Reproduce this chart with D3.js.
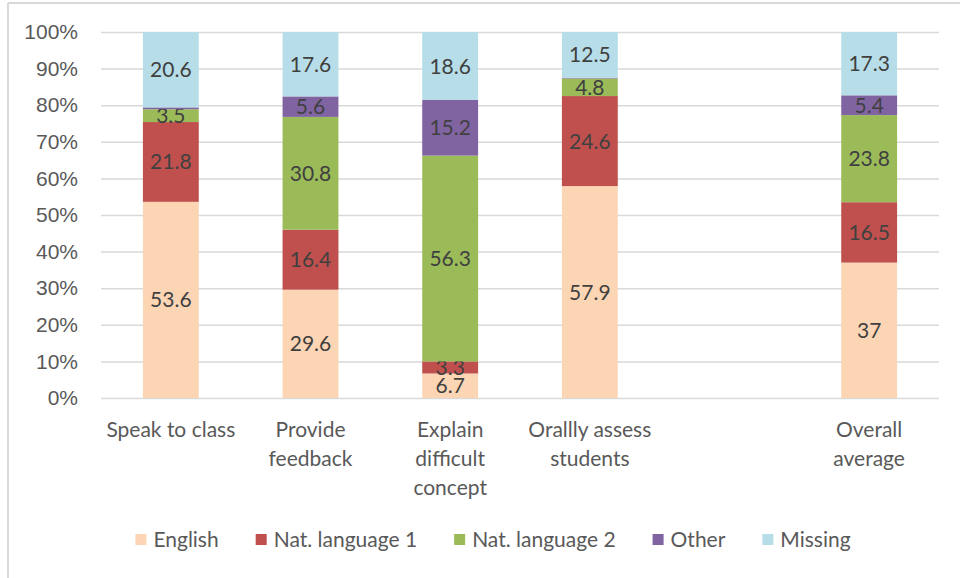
<!DOCTYPE html>
<html>
<head>
<meta charset="utf-8">
<script src="https://cdn.jsdelivr.net/npm/d3@7"></script>
<style>
  body { margin: 0; background: #fff; }
  svg { display: block; font-family: Lato, "Open Sans", sans-serif; }
</style>
</head>
<body>
<svg id="chart" width="960" height="578"></svg>
<script>
// chart data (empty slot between 4th and 5th bar)
const categories = ["Speak to class", "Provide feedback", "Explain difficult concept", "Orallly assess students", "", "Overall average"];
const catLines = [["Speak to class"], ["Provide", "feedback"], ["Explain", "difficult", "concept"], ["Orallly assess", "students"], [], ["Overall", "average"]];
const seriesNames = ["English", "Nat. language 1", "Nat. language 2", "Other", "Missing"];
const english  = [53.6, 29.6, 6.7, 57.9, null, 37];
const natLang1 = [21.8, 16.4, 3.3, 24.6, null, 16.5];
const natLang2 = [3.5, 30.8, 56.3, 4.8, null, 23.8];
const other    = [0.5, 5.6, 15.2, 0.2, null, 5.4];
const missing  = [20.6, 17.6, 18.6, 12.5, null, 17.3];
const yTicks = [0, 0.1, 0.2, 0.3, 0.4, 0.5, 0.6, 0.7, 0.8, 0.9, 1];

const colors = ["#FCD5B5", "#C0504D", "#9BBB59", "#8064A2", "#B7DEE8"];
const margin = {top: 32, left: 101, right: 21, bottom: 180};
const W = 960, H = 578;
const width = W - margin.left - margin.right, height = H - margin.top - margin.bottom;
const fs = "21px";

let svg = d3.select("#chart");

// frame (only left and top edges are visible in the picture)
svg.append("line").attr("x1", 8).attr("x2", 8).attr("y1", 3).attr("y2", H)
  .attr("stroke", "#d9d9d9").attr("stroke-width", 2);
svg.append("line").attr("x1", 8).attr("x2", W).attr("y1", 3).attr("y2", 3)
  .attr("stroke", "#d9d9d9").attr("stroke-width", 2);

let rows = categories.map((c, i) => ({
  cat: c,
  "English": english[i], "Nat. language 1": natLang1[i], "Nat. language 2": natLang2[i],
  "Other": other[i], "Missing": missing[i]
}));
let dataRows = rows.filter(d => d.English != null);

let x = d3.scaleBand().domain(categories.map((c, i) => i)).range([0, width]).paddingInner(0.6).paddingOuter(0.3);
let y = d3.scaleLinear().domain([0, 1]).range([height, 0]);

let g = svg.append("g").attr("transform", "translate(" + margin.left + "," + margin.top + ")");

// gridlines + y labels
let yAxis = d3.axisLeft(y).tickValues(yTicks).tickFormat(d3.format(".0%")).tickSize(-width).tickPadding(23);
let ya = g.append("g").call(yAxis);
ya.select(".domain").remove();
ya.selectAll(".tick line").attr("stroke", "#d9d9d9").attr("stroke-width", 1.5);
ya.selectAll(".tick text").attr("fill", "#595959").style("font-size", fs);

// stacked bars, normalised to 100%
let stack = d3.stack().keys(seriesNames).offset(d3.stackOffsetExpand);
let stacked = stack(dataRows);

let layers = g.selectAll(".layer").data(stacked).enter().append("g")
  .attr("class", "layer").attr("fill", (d, i) => colors[i]);

layers.selectAll("rect").data(d => d).enter().append("rect")
  .attr("x", d => x(categories.indexOf(d.data.cat)))
  .attr("width", x.bandwidth())
  .attr("y", d => y(d[1]))
  .attr("height", d => y(d[0]) - y(d[1]));

// data labels
layers.each(function(layer) {
  d3.select(this).selectAll("text").data(layer.filter(d => d.data[layer.key] >= 1)).enter().append("text")
    .attr("x", d => x(categories.indexOf(d.data.cat)) + x.bandwidth() / 2)
    .attr("y", d => (y(d[0]) + y(d[1])) / 2)
    .attr("dy", "0.36em")
    .attr("text-anchor", "middle")
    .attr("fill", "#404040")
    .style("font-size", fs)
    .text(d => d.data[layer.key]);
});

// category labels
categories.forEach((c, i) => {
  let t = g.append("text")
    .attr("x", x(i) + x.bandwidth() / 2)
    .attr("y", height + 39)
    .attr("text-anchor", "middle")
    .attr("fill", "#595959")
    .style("font-size", fs);
  catLines[i].forEach((line, j) => {
    t.append("tspan").attr("x", x(i) + x.bandwidth() / 2).attr("dy", j ? 29 : 0).text(line);
  });
});

// legend
let legend = svg.append("g");
let lx = 0;
seriesNames.forEach((name, i) => {
  let it = legend.append("g");
  it.append("rect").attr("x", 0).attr("y", -6).attr("width", 11).attr("height", 11).attr("fill", colors[i]);
  let t = it.append("text").attr("x", 18).attr("dy", "0.35em").attr("fill", "#595959")
    .style("font-size", fs).text(name);
  let w = 18 + t.node().getComputedTextLength();
  it.attr("transform", "translate(" + lx + ",0)");
  lx += w + 37;
});
let total = lx - 37;
legend.attr("transform", "translate(" + (493 - total / 2) + ",540)");
</script>
</body>
</html>
